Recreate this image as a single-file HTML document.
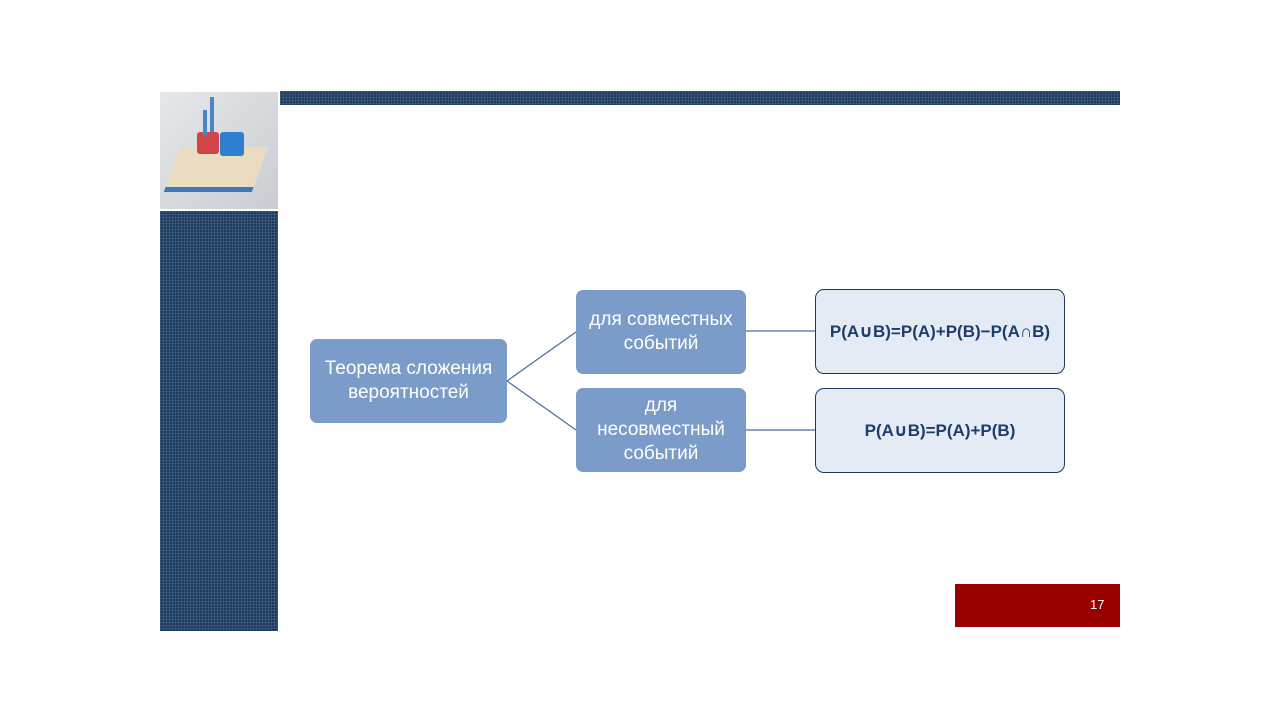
<!DOCTYPE html>
<html><head><meta charset="utf-8"><style>
body{margin:0;width:1280px;height:720px;background:#fff;position:relative;overflow:hidden;font-family:"Liberation Sans","DejaVu Sans",sans-serif}
.pat{position:absolute;background-color:#1f3b60;background-image:linear-gradient(rgba(90,120,150,.35) 1px,transparent 1px),linear-gradient(90deg,rgba(90,120,150,.35) 1px,transparent 1px);background-size:3px 3px}
.b{position:absolute;display:flex;align-items:center;justify-content:center;text-align:center;box-sizing:border-box}
.m{background:#7b9cc9;color:#fff;border-radius:7px;font-size:19px;line-height:24px}
.r{background:#e4ebf5;border:1.5px solid #1e3660;border-radius:9px;color:#1c3d6b;font-weight:bold;font-size:17px}
</style></head><body>
<div class="pat" style="left:280px;top:91px;width:840px;height:14px"></div>
<div class="pat" style="left:160px;top:211px;width:118px;height:420px"></div>
<div style="position:absolute;left:160px;top:92px;width:118px;height:117px;background:linear-gradient(135deg,#e6e8ea,#c9cdd2);overflow:hidden">
<div style="position:absolute;left:12px;top:55px;width:88px;height:40px;background:#e9dcc0;border-bottom:5px solid #3f78b8;transform:skewX(-20deg)"></div>
<div style="position:absolute;left:37px;top:40px;width:22px;height:22px;background:#d04545;border-radius:3px"></div>
<div style="position:absolute;left:60px;top:40px;width:24px;height:24px;background:#2f7fd0;border-radius:3px"></div>
<div style="position:absolute;left:50px;top:5px;width:4px;height:35px;background:#4a86c4"></div>
<div style="position:absolute;left:43px;top:18px;width:4px;height:25px;background:#4a86c4"></div>
</div>
<div style="position:absolute;left:955px;top:584px;width:165px;height:43px;background:#990000;color:#fff;font-size:13px"><span style="position:absolute;left:135px;top:13px">17</span></div>
<svg style="position:absolute;left:0;top:0" width="1280" height="720">
<g stroke="#4a6e9e" stroke-width="1.2" fill="none">
<line x1="507" y1="381" x2="576" y2="332"/><line x1="507" y1="381" x2="576" y2="430"/>
<line x1="746" y1="331" x2="815" y2="331"/><line x1="746" y1="430" x2="815" y2="430"/>
</g></svg>
<div class="b m" style="left:310px;top:339px;width:197px;height:84px">Теорема сложения<br>вероятностей</div>
<div class="b m" style="left:576px;top:290px;width:170px;height:84px">для совместных<br>событий</div>
<div class="b m" style="left:576px;top:388px;width:170px;height:84px">для<br>несовместный<br>событий</div>
<div class="b r" style="left:815px;top:289px;width:250px;height:85px">P(A∪B)=P(A)+P(B)−P(A∩B)</div>
<div class="b r" style="left:815px;top:388px;width:250px;height:85px">P(A∪B)=P(A)+P(B)</div>
</body></html>
